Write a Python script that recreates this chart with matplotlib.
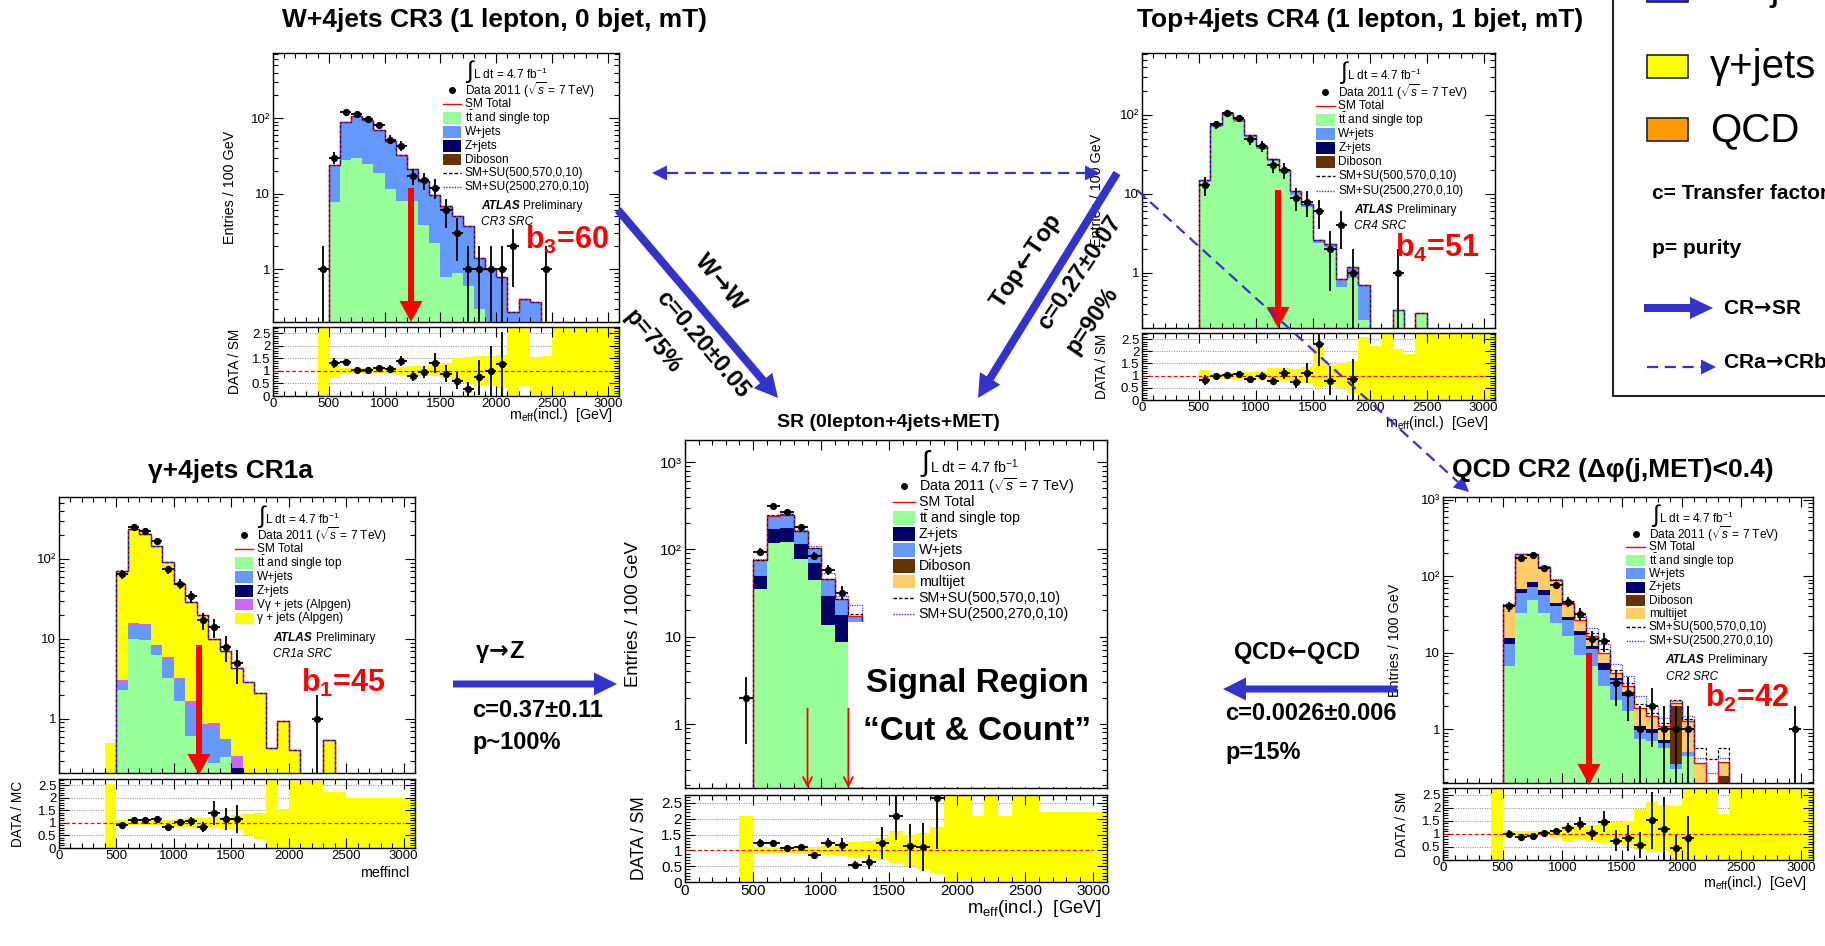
import numpy as np
import matplotlib
matplotlib.use("Agg")
import matplotlib.pyplot as plt
from matplotlib.patches import Rectangle, FancyArrow
from matplotlib.ticker import (MultipleLocator, FixedLocator, FuncFormatter,
                               LogLocator, NullFormatter)

plt.rcParams['font.family'] = ['Liberation Sans', 'DejaVu Sans']
plt.rcParams['mathtext.fontset'] = 'custom'
plt.rcParams['mathtext.rm'] = 'Liberation Sans'
plt.rcParams['mathtext.it'] = 'Liberation Sans:italic'
plt.rcParams['mathtext.bf'] = 'Liberation Sans:bold'
plt.rcParams['axes.linewidth'] = 1.0

W, H = 1825, 946
BINW = 100

# colours
C_TOP = '#99ff99'
C_W = '#6699ff'
C_Z = '#000066'
C_DIB = '#663300'
C_MJ = '#ffcc66'
C_VG = '#cc66ff'
C_GAM = '#ffff00'
C_BLUE = '#3333cc'

# ---------------------------------------------------------------- data
# CR3 (W+4jets): stack bins of 100 GeV starting at 500 GeV
cr3_top = [7.7, 28, 30, 25, 19, 11.5, 7.9, 7.9, 3.8, 2.2, 0.8, 0.9, 0.6, 0.3, 0, 0, 0, 0, 0, 0]
cr3_wjets = [16.3, 62, 75, 70, 51, 38.5, 25, 13, 11, 7.3, 6, 4.1, 3.1, 1.1, 1.0, 0.8, 0.27, 0.4, 0.37, 0]
# data counts, bins starting at 400 GeV
cr3_data = [1, 30, 120, 113, 97, 80, 52, 43, 17, 15, 12, 6, 3, 1, 1, 1, 1, 2, 0, 0, 1]
cr3_ratio_x = [550, 650, 750, 850, 950, 1050, 1150, 1250, 1350, 1450, 1550, 1650, 1750, 1850, 1950, 2050]
cr3_ratio = [1.30, 1.37, 1.05, 1.02, 1.13, 1.09, 1.39, 0.79, 0.96, 1.30, 0.89, 0.61, 0.27, 0.75, 1.0, 1.27]
cr3_ratio_err = [0.2, 0.12, 0.1, 0.1, 0.12, 0.15, 0.2, 0.2, 0.25, 0.4, 0.35, 0.35, 0.27, 0.7, 1.0, 1.3]
# MC uncertainty band, bins starting at 400 GeV
cr3_band_lo = [0, 0.72, 0.88, 0.9, 0.9, 0.9, 0.88, 0.85, 0.82, 0.8, 0.78, 0.7, 0.6, 0.5, 0.4, 0.4, 0.3,
               0, 0.4, 0, 0, 0, 0, 0, 0, 0, 0]
cr3_band_hi = [2.8, 1.28, 1.12, 1.1, 1.1, 1.12, 1.12, 1.15, 1.18, 1.2, 1.22, 1.3, 1.5, 1.55, 1.6, 1.6, 1.65,
               2.8, 2.8, 1.55, 1.6, 2.8, 2.8, 2.8, 2.8, 2.8, 2.8]

# CR4 (Top+4jets): stack from 500 GeV
cr4_top = [14.3, 70, 98, 82, 52, 37, 26, 18.5, 9.8, 6.8, 2.4, 2.1, 0.66, 0.86, 0.25, 0, 0, 0.34, 0, 0.31]
cr4_wjets = [0.8, 5, 7, 6, 4, 3, 2, 1.5, 1.2, 0.7, 0.2, 0.25, 0.18, 0.34, 0.46, 0, 0, 0, 0, 0]
cr4_data = [0, 13, 76, 107, 91, 49, 40, 23, 20, 9, 8, 6, 2, 4, 1, 0, 0, 0, 1]
cr4_ratio_x = [550, 650, 750, 850, 950, 1050, 1150, 1250, 1350, 1450, 1550, 1650, 1850]
cr4_ratio = [0.83, 1.0, 1.03, 1.08, 0.86, 1.0, 0.8, 1.1, 0.75, 1.1, 2.29, 0.79, 0.85]
cr4_ratio_err = [0.2, 0.1, 0.1, 0.1, 0.12, 0.15, 0.15, 0.22, 0.25, 0.4, 0.9, 0.6, 0.85]
cr4_band_lo = [0, 0.72, 0.88, 0.88, 0.88, 0.85, 0.85, 0.8, 0.8, 0.75, 0.7, 0.55, 0.6, 0.55, 0.3,
               0, 0, 0, 0, 0, 0, 0, 0, 0, 0, 0, 0]
cr4_band_hi = [0, 1.25, 1.12, 1.1, 1.12, 1.15, 1.2, 1.3, 1.3, 1.28, 1.35, 2.15, 1.45, 1.5, 1.6,
               2.6, 2.2, 2.8, 2.1, 1.9, 2.8, 2.8, 2.8, 2.8, 2.8, 2.8, 2.8]

# SR (0lepton+4jets+MET): stack from 500 GeV
sr_top = [35, 118, 123, 77, 45, 13.6, 8.6, 9.5]
sr_zjets = [15, 52, 52, 39, 24, 15.3, 9.2, 5]
sr_wjets = [25, 72, 74, 44, 34, 16, 8.6, 2.5]
sr_diboson = [0.3, 0.5, 0.5, 0.4, 0.3, 0.2, 0.2, 0.2]
sr_multijet = [0.5, 1.0, 1.0, 0.5, 0.5, 0.3, 0.2, 0.1]
sr_su_a = [76, 245, 252, 162, 104, 46, 27, 18]
sr_su_b = [77, 246, 253, 166, 108, 53, 29, 23]
sr_data = [2, 93, 310, 268, 180, 85, 58, 32]
sr_ratio_x = [550, 650, 750, 850, 950, 1050, 1150, 1250, 1350, 1450, 1550, 1650, 1750, 1850]
sr_ratio = [1.23, 1.23, 1.06, 1.1, 0.86, 1.23, 1.18, 0.55, 0.64, 1.23, 2.08, 1.13, 1.1, 2.65]
sr_ratio_err = [0.12, 0.07, 0.07, 0.08, 0.1, 0.15, 0.2, 0.12, 0.22, 0.5, 0.75, 0.7, 0.75, 1.6]
sr_band_lo = [0, 0.9, 0.92, 0.92, 0.9, 0.88, 0.85, 0.82, 0.8, 0.75, 0.7, 0.6, 0.5, 0.4, 0.3,
              0, 0.05, 0, 0, 0, 0, 0, 0, 0, 0, 0, 0]
sr_band_hi = [2.1, 1.1, 1.08, 1.08, 1.1, 1.12, 1.15, 1.2, 1.25, 1.3, 1.4, 1.6, 1.5, 1.55, 1.75,
              2.8, 2.8, 2.1, 2.8, 2.1, 2.8, 2.8, 2.2, 2.2, 2.2, 2.2, 2.2]

# CR1a (gamma+4jets): stack from 400 GeV
cr1_top = [0, 2.3, 10, 9.8, 6.2, 3.25, 1.66, 0.61, 0.36, 0.28, 0.33, 0, 0, 0, 0, 0, 0, 0, 0, 0]
cr1_wjets = [0, 0.4, 5.0, 4.8, 1.9, 2.25, 1.44, 0.83, 0.45, 0.49, 0.22, 0, 0, 0, 0, 0, 0, 0, 0, 0]
cr1_zjets = [0, 0, 0, 0, 0, 0, 0, 0, 0, 0, 0, 0.245, 0, 0, 0, 0, 0, 0, 0, 0]
cr1_vgamma = [0, 0.4, 0.7, 0.7, 0.2, 0.4, 0.1, 0.22, 0.04, 0.12, 0.01, 0.095, 0, 0, 0, 0, 0, 0, 0, 0]
cr1_gamma = [0.5, 67, 218, 188, 135, 85, 46, 27.3, 19.2, 9.1, 6.4, 4.0, 2.9, 2.1, 0.43, 0.93, 0.41, 0, 0, 0.55]
cr1_data = [0, 64, 254, 226, 167, 74, 49, 34, 17, 14, 8, 5, 0, 0, 0, 0, 0, 0, 1]
cr1_ratio_x = [550, 650, 750, 850, 950, 1050, 1150, 1250, 1350, 1450, 1550]
cr1_ratio = [0.92, 1.1, 1.12, 1.16, 0.82, 1.02, 1.07, 0.85, 1.40, 1.16, 1.16]
cr1_ratio_err = [0.1, 0.07, 0.08, 0.08, 0.1, 0.15, 0.18, 0.2, 0.48, 0.45, 0.55]
cr1_band_lo = [0, 0.88, 0.9, 0.9, 0.9, 0.88, 0.85, 0.82, 0.8, 0.78, 0.75, 0.7, 0.5, 0.35,
               0, 0, 0, 0, 0, 0, 0, 0, 0, 0, 0, 0, 0]
cr1_band_hi = [2.55, 1.12, 1.1, 1.1, 1.1, 1.12, 1.15, 1.18, 1.2, 1.22, 1.25, 1.3, 1.35, 1.4,
               2.8, 1.57, 2.66, 2.66, 2.66, 2.25, 2.25, 2.0, 2.0, 2.0, 2.0, 2.0, 2.0]

# CR2 (QCD): stack from 500 GeV
cr2_top = [6.6, 33, 48, 33, 24.5, 16.4, 9.4, 6.6, 3.6, 2.4, 1.7, 0.75, 0.69, 0.56, 0.3, 0.45, 0, 0, 0, 0]
cr2_wjets = [6.4, 27, 24, 23, 15.5, 10.6, 7.6, 4.4, 2.4, 2.0, 1.0, 0.25, 0.2, 0.1, 0.05, 0.05, 0, 0, 0, 0]
cr2_zjets = [2.5, 8, 11, 9, 5, 2, 2, 1.3, 1.3, 0.3, 0.2, 0.1, 0.1, 0.05, 0, 0, 0, 0, 0, 0]
cr2_diboson = [0, 0, 0, 0, 0, 0, 0, 0, 0, 0, 0, 0, 0, 0, 1.65, 0, 0, 0, 0.24, 0]
cr2_multijet = [26.5, 124, 109, 66, 43, 14, 8, 4.1, 2.7, 0.7, 0.7, 0.8, 0.48, 0.37, 0.2, 0.76, 0.36, 0, 0.13, 0]
cr2_su_a = [43, 194, 194, 133, 90, 45, 29, 18, 11, 6, 4, 2.1, 1.6, 1.2, 2.4, 1.35, 0.56, 0.4, 0.56, 0]
cr2_su_b = [43, 195, 195, 134, 92, 47, 31, 21, 13, 7, 5, 2.7, 2.0, 1.4, 2.3, 1.5, 0.42, 0.27, 0.42, 0]
cr2_data = [0, 40, 174, 186, 126, 76, 46, 32, 15, 14, 4, 3, 1, 2, 1, 1, 1, 0, 0, 0, 0, 0, 0, 0, 0, 1]
cr2_ratio_x = [550, 650, 750, 850, 950, 1050, 1150, 1250, 1350, 1450, 1550, 1650, 1750, 1850, 1950, 2050]
cr2_ratio = [0.99, 0.87, 0.93, 1.03, 1.09, 1.22, 1.38, 1.03, 1.46, 0.74, 0.83, 0.57, 1.51, 1.2, 0.47, 0.83]
cr2_ratio_err = [0.15, 0.07, 0.07, 0.1, 0.12, 0.18, 0.25, 0.27, 0.4, 0.4, 0.5, 0.5, 1.1, 1.2, 0.5, 0.85]
cr2_band_lo = [0, 0.88, 0.9, 0.9, 0.9, 0.85, 0.72, 0.75, 0.7, 0.65, 0.6, 0.55, 0.4, 0.3, 0.35,
               0, 0, 0, 0, 0, 0, 0, 0, 0, 0, 0, 0]
cr2_band_hi = [2.8, 1.12, 1.1, 1.1, 1.1, 1.15, 1.28, 1.3, 1.35, 1.4, 1.45, 1.5, 1.95, 2.2, 2.1,
               2.05, 2.8, 2.8, 2.8, 1.75, 2.8, 2.8, 2.8, 2.8, 2.8, 2.8, 2.8]

L_DATA = r'Data 2011 ($\sqrt{s}$ = 7 TeV)'
L_TT = r'$\mathrm{t\bar{t}}$ and single top'
L_SU1 = 'SM+SU(500,570,0,10)'
L_SU2 = 'SM+SU(2500,270,0,10)'
RA = r'$\!\mathbf{\rightarrow}\!$'
LA = r'$\!\mathbf{\leftarrow}\!$'

fig = plt.figure(figsize=(W / 100, H / 100), dpi=100)


def px_axes(l, t, r, b):
    return fig.add_axes([l / W, 1 - b / H, (r - l) / W, (b - t) / H])


def log_fmt(v, pos):
    return {1: '1', 10: '10', 100: '10\u00b2', 1000: '10\u00b3'}.get(int(round(v)), '')


def frame(ax, fs):
    ax.set_xlim(0, 3100)
    ax.xaxis.set_major_locator(MultipleLocator(500))
    ax.xaxis.set_minor_locator(MultipleLocator(100))
    ax.tick_params(which='both', direction='in', top=True, right=True, labelsize=fs, width=0.8)
    ax.tick_params(which='major', length=7)
    ax.tick_params(which='minor', length=3.5)


def draw_main(box, ylim, stack, first, data, fs, total_from=0, su=None):
    ax = px_axes(*box)
    ax.set_yscale('log')
    ax.set_ylim(*ylim)
    frame(ax, fs)
    ax.yaxis.set_major_locator(FixedLocator([1, 10, 100, 1000]))
    ax.yaxis.set_major_formatter(FuncFormatter(log_fmt))
    ax.yaxis.set_minor_locator(LogLocator(subs=np.arange(2, 10), numticks=20))
    ax.yaxis.set_minor_formatter(NullFormatter())
    ax.tick_params(axis='x', labelbottom=False)
    ax.tick_params(axis='y', pad=2)
    n = len(stack[0][0])
    left = first + BINW * np.arange(n)
    base = np.zeros(n)
    for vals, col in stack:
        v = np.asarray(vals, float)
        ax.bar(left, v, width=BINW, bottom=base, align='edge', color=col, lw=0, zorder=1)
        base = base + v
    edges = first + BINW * np.arange(n + 1)
    k = total_from
    ax.stairs(base[k:], edges[k:], baseline=0, color='red', lw=1.0, zorder=2)
    sa, sb = (base, base) if su is None else (np.asarray(su[0]), np.asarray(su[1]))
    ax.stairs(sa[k:], edges[k:], baseline=0, color='black', lw=0.9, ls=(0, (2.5, 1.5)), zorder=2)
    ax.stairs(sb[k:], edges[k:], baseline=0, color='#3333ff', lw=0.9, ls=(0, (1, 1)), zorder=2)
    d = np.asarray(data, float)
    cx = 450 + BINW * np.arange(len(d))
    m = d > 0
    ax.errorbar(cx[m], d[m], xerr=50, yerr=np.sqrt(d[m]), fmt='o', color='black',
                ms=4.2, elinewidth=1.3, capsize=0, zorder=4)
    return ax


def draw_ratio(box, lo, hi, rx, rv, re, fs):
    ax = px_axes(*box)
    frame(ax, fs)
    ax.set_ylim(0, 2.75)
    lo = np.asarray(lo, float)
    hi = np.asarray(hi, float)
    left = 400 + BINW * np.arange(len(lo))
    ax.bar(left, hi - lo, bottom=lo, width=BINW, align='edge', color=C_GAM, lw=0, zorder=1)
    for g in (0.5, 1.5, 2, 2.5):
        ax.axhline(g, color='#888888', lw=0.7, ls=(0, (1, 1.5)), zorder=0.5)
    ax.plot([0, 3000], [1, 1], color='red', lw=0.9, ls=(0, (3, 2)), zorder=2)
    ax.errorbar(rx, rv, yerr=re, xerr=50, fmt='o', color='black', ms=4.2,
                elinewidth=1.3, capsize=0, zorder=4)
    ax.yaxis.set_major_locator(FixedLocator([0, 0.5, 1, 1.5, 2, 2.5]))
    ax.yaxis.set_major_formatter(FuncFormatter(lambda v, p: '%g' % v))
    ax.yaxis.set_minor_locator(MultipleLocator(0.1))
    ax.tick_params(axis='x', pad=1.5)
    ax.tick_params(axis='y', pad=2)
    return ax


def draw_key(ax, x0, y0, dy, entries, fs, bw=0.053):
    tr = ax.transAxes
    for i, (kind, col, label) in enumerate(entries):
        y = y0 - i * dy
        if kind == 'data':
            ax.plot([x0 + bw / 2], [y], 'o', color='black', ms=4, transform=tr)
        elif kind == 'box':
            ax.add_patch(Rectangle((x0, y - 0.42 * dy), bw, 0.84 * dy, transform=tr,
                                   facecolor=col, edgecolor='none', zorder=3))
        else:
            ls = {'line': '-', 'dash': (0, (2.5, 1.5)), 'dot': (0, (1, 1))}[kind]
            ax.plot([x0, x0 + bw], [y, y], color=col, lw=1.0, ls=ls, transform=tr)
        ax.text(x0 + bw + 0.01, y, label, transform=tr, fontsize=fs, va='center', ha='left')


def lumi_label(ax, x, y, fs):
    ax.text(x, y + 0.005, '\u222b', transform=ax.transAxes, fontsize=fs * 2.0, va='center', ha='left')
    ax.text(x + 0.02, y - 0.005, 'L dt = 4.7 fb$^{-1}$', transform=ax.transAxes, fontsize=fs,
            va='center', ha='left')


def atlas_label(ax, x, y, gap, region, fs):
    ax.text(x, y, 'ATLAS', transform=ax.transAxes, fontsize=fs, fontweight='bold',
            fontstyle='italic', va='center')
    ax.annotate('Preliminary', xy=(x, y), xycoords='axes fraction', xytext=(3.55 * fs, 0),
                textcoords='offset points', fontsize=fs, va='center')
    ax.text(x, y - gap, region, transform=ax.transAxes, fontsize=fs, fontstyle='italic', va='center')


def labels(ax_m, ax_r, w_px, main_x, ratio_x, xlab, xlab_off, fs_lab, ylab_r='DATA / SM'):
    # main_x / ratio_x: distance (px) from the axes' left edge to the label centre
    if main_x:
        ax_m.set_ylabel('Entries / 100 GeV', fontsize=fs_lab, va='center')
        ax_m.yaxis.set_label_coords(-main_x / w_px, 0.5)
    ax_r.set_ylabel(ylab_r, fontsize=fs_lab * 0.95, va='center')
    ax_r.yaxis.set_label_coords(-ratio_x / w_px, 0.5)
    ax_r.text(1.0 - 6 / w_px, -xlab_off, xlab, transform=ax_r.transAxes, fontsize=fs_lab,
              ha='right', va='center')


MEFF = r'm$_{\mathrm{eff}}$(incl.)  [GeV]'
KEY_STD = [('data', 'k', L_DATA), ('line', 'red', 'SM Total'), ('box', C_TOP, L_TT),
           ('box', C_W, 'W+jets'), ('box', C_Z, 'Z+jets'), ('box', C_DIB, 'Diboson'),
           ('dash', 'black', L_SU1), ('dot', '#3333ff', L_SU2)]
FS_KEY = 8.6

# ---------------------------------------------------------------- CR3
m3 = draw_main((273, 53, 619, 322), (0.2, 726), [(cr3_top, C_TOP), (cr3_wjets, C_W)], 500, cr3_data, 9.5)
r3 = draw_ratio((273, 327, 619, 396), cr3_band_lo, cr3_band_hi, cr3_ratio_x, cr3_ratio, cr3_ratio_err, 9.5)
labels(m3, r3, 346, 43, 38, MEFF, 0.27, 10.3)
lumi_label(m3, 0.559, 0.925, FS_KEY)
draw_key(m3, 0.491, 0.861, 0.0514, KEY_STD, FS_KEY)
atlas_label(m3, 0.601, 0.431, 0.058, 'CR3 SRC', FS_KEY)

# ---------------------------------------------------------------- CR4
m4 = draw_main((1142, 53, 1495, 328), (0.2, 610), [(cr4_top, C_TOP), (cr4_wjets, C_W)], 500, cr4_data, 9.5)
r4 = draw_ratio((1142, 333, 1495, 400), cr4_band_lo, cr4_band_hi, cr4_ratio_x, cr4_ratio, cr4_ratio_err, 9.5)
labels(m4, r4, 353, 45, 40, MEFF, 0.34, 10.3)
lumi_label(m4, 0.561, 0.925, FS_KEY)
draw_key(m4, 0.493, 0.859, 0.0513, KEY_STD, FS_KEY)
atlas_label(m4, 0.601, 0.43, 0.06, 'CR4 SRC', FS_KEY)

# ---------------------------------------------------------------- SR
ms = draw_main((685, 440, 1107, 788), (0.185, 1790),
               [(sr_top, C_TOP), (sr_zjets, C_Z), (sr_wjets, C_W), (sr_diboson, C_DIB), (sr_multijet, C_MJ)],
               500, sr_data, 11, su=(sr_su_a, sr_su_b))
rs = draw_ratio((685, 795, 1107, 882), sr_band_lo, sr_band_hi, sr_ratio_x, sr_ratio, sr_ratio_err, 11)
labels(ms, rs, 422, 52, 46, MEFF, 0.30, 13.3)
ms.add_patch(Rectangle((1200, 0.19), 1850, 14.7, facecolor='white', edgecolor='none', zorder=2.4))
for xc in (900, 1200):
    ms.annotate('', xy=(xc, 0.185), xytext=(xc, 1.5),
                arrowprops=dict(arrowstyle='->', color='red', lw=1.3, mutation_scale=16,
                                shrinkA=0, shrinkB=0), zorder=3)
lumi_label(ms, 0.56, 0.928, 10.3)
draw_key(ms, 0.493, 0.868, 0.0459,
         [('data', 'k', L_DATA), ('line', 'red', 'SM Total'), ('box', C_TOP, L_TT),
          ('box', C_Z, 'Z+jets'), ('box', C_W, 'W+jets'), ('box', C_DIB, 'Diboson'),
          ('box', C_MJ, 'multijet'), ('dash', 'black', L_SU1), ('dot', '#3333ff', L_SU2)], 10.3, bw=0.051)

# ---------------------------------------------------------------- CR1a
m1 = draw_main((59, 497, 415, 773), (0.21, 596),
               [(cr1_top, C_TOP), (cr1_wjets, C_W), (cr1_zjets, C_Z), (cr1_vgamma, C_VG), (cr1_gamma, C_GAM)],
               400, cr1_data, 9.5, total_from=1)
r1 = draw_ratio((59, 779, 415, 848), cr1_band_lo, cr1_band_hi, cr1_ratio_x, cr1_ratio, cr1_ratio_err, 9.5)
labels(m1, r1, 356, 0, 41, 'meffincl', 0.36, 10.3, ylab_r='DATA / MC')
lumi_label(m1, 0.56, 0.925, FS_KEY)
draw_key(m1, 0.494, 0.861, 0.0502,
         [('data', 'k', L_DATA), ('line', 'red', 'SM Total'), ('box', C_TOP, L_TT),
          ('box', C_W, 'W+jets'), ('box', C_Z, 'Z+jets'), ('box', C_VG, 'V\u03b3 + jets (Alpgen)'),
          ('box', C_GAM, '\u03b3 + jets (Alpgen)')], FS_KEY, bw=0.0515)
atlas_label(m1, 0.602, 0.488, 0.058, 'CR1a SRC', FS_KEY)

# ---------------------------------------------------------------- CR2
m2 = draw_main((1443, 497, 1813, 783), (0.197, 1080),
               [(cr2_top, C_TOP), (cr2_wjets, C_W), (cr2_zjets, C_Z), (cr2_diboson, C_DIB), (cr2_multijet, C_MJ)],
               500, cr2_data, 9.5, su=(cr2_su_a, cr2_su_b))
r2 = draw_ratio((1443, 788, 1813, 860), cr2_band_lo, cr2_band_hi, cr2_ratio_x, cr2_ratio, cr2_ratio_err, 9.5)
labels(m2, r2, 370, 48, 41, MEFF, 0.32, 10.3)
lumi_label(m2, 0.564, 0.93, FS_KEY)
draw_key(m2, 0.495, 0.871, 0.0466,
         [('data', 'k', L_DATA), ('line', 'red', 'SM Total'), ('box', C_TOP, L_TT),
          ('box', C_W, 'W+jets'), ('box', C_Z, 'Z+jets'), ('box', C_DIB, 'Diboson'),
          ('box', C_MJ, 'multijet'), ('dash', 'black', L_SU1), ('dot', '#3333ff', L_SU2)], FS_KEY, bw=0.0515)
atlas_label(m2, 0.602, 0.431, 0.06, 'CR2 SRC', FS_KEY)

# ---------------------------------------------------------------- overlay (pixel coordinates)
ov = fig.add_axes([0, 0, 1, 1], zorder=10)
ov.set_xlim(0, W)
ov.set_ylim(H, 0)
ov.axis('off')


def solid_arrow(x0, y0, x1, y1, col=C_BLUE, w=8, hw=24, hl=23):
    ov.add_patch(FancyArrow(x0, y0, x1 - x0, y1 - y0, width=w, head_width=hw, head_length=hl,
                            length_includes_head=True, color=col, lw=0))


def dashed_arrow(x0, y0, x1, y1, both=False, hl=15, hw=15):
    d = np.hypot(x1 - x0, y1 - y0)
    ux, uy = (x1 - x0) / d, (y1 - y0) / d
    sx, sy = (x0 + ux * hl, y0 + uy * hl) if both else (x0, y0)
    ov.plot([sx, x1 - ux * hl], [sy, y1 - uy * hl], color=C_BLUE, lw=1.6, ls=(0, (5, 3)))
    ends = [(x1, y1, ux, uy)] + ([(x0, y0, -ux, -uy)] if both else [])
    for ex, ey, vx, vy in ends:
        ov.add_patch(FancyArrow(ex - vx * hl, ey - vy * hl, vx * hl, vy * hl, width=0, head_width=hw,
                                head_length=hl, length_includes_head=True, color=C_BLUE, lw=0))


# titles
tkw = dict(fontweight='bold', ha='center', va='center')
ov.text(495, 20, 'W+4jets CR3 (1 lepton, 0 bjet, mT)', fontsize=19, **tkw)
ov.text(1360, 20, 'Top+4jets CR4 (1 lepton, 1 bjet, mT)', fontsize=19, **tkw)
ov.text(888, 422, 'SR (0lepton+4jets+MET)', fontsize=14, **tkw)
ov.text(231, 471, '\u03b3+4jets CR1a', fontsize=19, **tkw)
ov.text(1613, 470, 'QCD CR2 (\u0394\u03c6(j,MET)<0.4)', fontsize=19, **tkw)

# region counts
bkw = dict(fontsize=22, color='red', fontweight='bold', ha='center', va='center')
ov.text(567, 240, r'b$_\mathbf{3}$=60', **bkw)
ov.text(1437, 248, r'b$_\mathbf{4}$=51', **bkw)
ov.text(343, 683, r'b$_\mathbf{1}$=45', **bkw)
ov.text(1747, 698, r'b$_\mathbf{2}$=42', **bkw)

# red cut arrows
for x, y0, y1 in ((411, 188, 322), (1278, 190, 328), (199, 645, 775), (1589, 653, 785)):
    solid_arrow(x, y0, x, y1, col='red', w=6, hw=23, hl=21)

# signal region text
ov.text(977, 683, 'Signal Region', fontsize=24, **tkw)
ov.text(977, 731, '\u201cCut & Count\u201d', fontsize=24, **tkw)

# transfer arrows
solid_arrow(618, 210, 778, 398)
solid_arrow(1117, 173, 978, 398)
solid_arrow(453, 684, 617, 684, w=7, hw=23, hl=23)
solid_arrow(1397, 689, 1223, 689, w=7, hw=23, hl=23)
dashed_arrow(652, 173, 1100, 173, both=True)
dashed_arrow(1137, 190, 1469, 492)

akw = dict(fontsize=17, fontweight='bold', ha='center', va='center', rotation_mode='anchor',
           math_fontfamily='dejavusans')
ov.text(720, 283, 'W' + RA + 'W', rotation=-50, **akw)
ov.text(703, 344, 'c=0.20\u00b10.05', rotation=-50, **akw)
ov.text(653, 342, 'p=75%', rotation=-50, **akw)
ov.text(1027, 262, 'Top' + LA + 'Top', rotation=56, **akw)
ov.text(1080, 273, 'c=0.27\u00b10.07', rotation=56, **akw)
ov.text(1092, 320, 'p=90%', rotation=56, **akw)

lkw = dict(fontsize=17, fontweight='bold', ha='left', va='center', math_fontfamily='dejavusans')
ov.text(475, 652, '\u03b3' + RA + 'Z', **lkw)
ov.text(472, 710, 'c=0.37\u00b10.11', **lkw)
ov.text(472, 742, 'p~100%', **lkw)
ov.text(1233, 653, 'QCD' + LA + 'QCD', **lkw)
ov.text(1225, 713, 'c=0.0026\u00b10.006', **lkw)
ov.text(1225, 752, 'p=15%', **lkw)

# summary key (top right)
ov.plot([1613, 1613, W + 5], [-5, 396, 396], color='#222222', lw=1.5)
for yc, col, lab in ((-9, C_BLUE, 'W+jets'), (67, C_GAM, '\u03b3+jets'), (130, '#ff9900', 'QCD')):
    ov.add_patch(Rectangle((1647, yc - 11.5), 41, 23, facecolor=col, edgecolor='#222222', lw=1.2))
    if yc < 0:
        ov.text(1710, 0, lab, fontsize=29, ha='left', va='baseline')
    else:
        ov.text(1710, yc, lab, fontsize=29, ha='left', va='center')
skw = dict(fontsize=15, fontweight='bold', ha='left', va='center', math_fontfamily='dejavusans')
ov.text(1652, 193, 'c= Transfer factor', **skw)
ov.text(1652, 248, 'p= purity', **skw)
solid_arrow(1644, 308, 1713, 308, w=8, hw=22, hl=23)
ov.text(1723, 308, 'CR' + RA + 'SR', **skw)
dashed_arrow(1647, 367, 1716, 367)
ov.text(1723, 362, 'CRa' + RA + 'CRb', **skw)

fig.savefig('out.png', dpi=100)
